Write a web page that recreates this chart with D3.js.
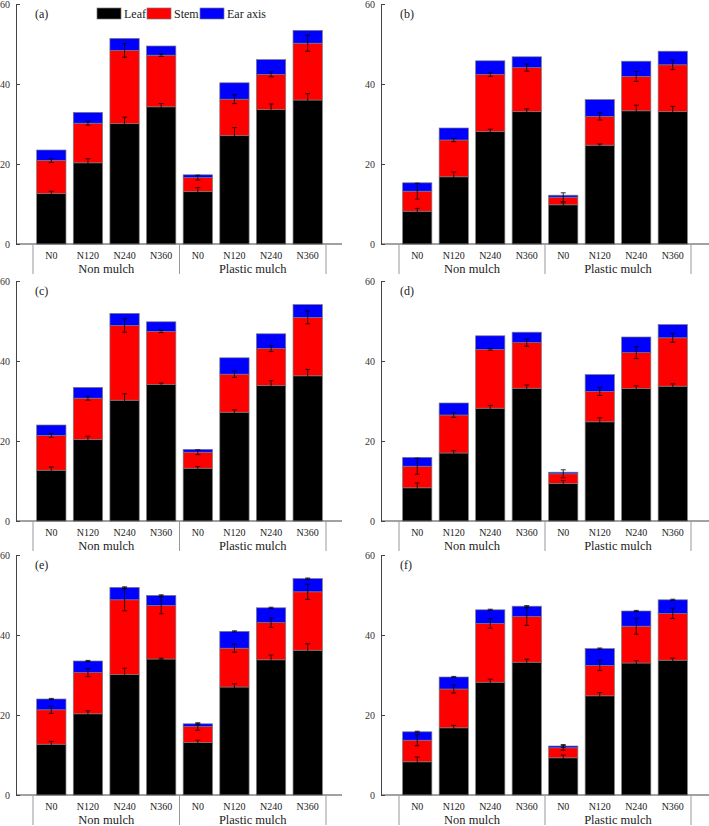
<!DOCTYPE html>
<html><head><meta charset="utf-8">
<script src="https://cdn.jsdelivr.net/npm/d3@7"></script>
<style>
body{margin:0;background:#fff}
svg text{font-family:'Liberation Serif','Times New Roman',Times,serif !important}
</style>
</head><body>
<svg id="chart" width="709" height="826" font-family="Liberation Serif, Times New Roman, serif"></svg>
<script>
// ---------- data ----------
const categories = ["N0","N120","N240","N360","N0","N120","N240","N360"];
const groups = ["Non mulch","Plastic mulch"];
const seriesNames = ["Leaf","Stem","Ear axis"];
const seriesKeys = ["leaf","stem","ear"];
const seriesColors = ["#000000","#ff0000","#0000ff"];
const panelLabels = ["(a)","(b)","(c)","(d)","(e)","(f)"];
const yTicks = [0,20,40,60];

const leafA = [12.6,20.3,30.1,34.3,13.1,27.1,33.6,36.0];
const stemA = [8.3,9.9,18.3,12.9,3.5,9.1,8.8,14.2];
const earA  = [2.6,2.7,3.0,2.3,0.7,4.1,3.7,3.2];
const leafErrA = [0.6,1.0,1.6,0.8,1.0,2.0,1.4,1.6];
const stemErrA = [0.5,0.5,1.7,0.3,0.6,1.1,0.6,2.0];
const earErrA  = [0,0,0,0,0,0,0,0];

const leafB = [8.2,16.8,28.1,33.1,9.8,24.7,33.3,33.1];
const stemB = [5.0,9.2,14.3,11.0,1.9,7.2,8.6,11.7];
const earB  = [2.1,3.0,3.4,2.7,0.5,4.2,3.8,3.4];
const leafErrB = [0.7,1.2,0.6,0.7,0.5,0.3,1.4,1.3];
const stemErrB = [2.0,0.4,0.5,0.9,1.1,0.9,1.25,1.2];
const earErrB  = [0,0,0,0,0,0,0,0];

const leafC = [12.7,20.4,30.2,34.1,13.2,27.2,33.9,36.3];
const stemC = [8.7,10.3,18.7,13.3,4.0,9.5,9.2,14.6];
const earC  = [2.6,2.7,3.0,2.4,0.7,4.1,3.7,3.2];
const leafErrC = [0.8,0.8,1.6,0.4,0.4,0.6,1.2,1.6];
const stemErrC = [0.5,0.5,1.7,0.3,0.6,0.8,0.75,1.6];
const earErrC  = [0,0,0,0,0,0,0,0];

const leafD = [8.3,17.0,28.2,33.2,9.4,24.8,33.1,33.7];
const stemD = [5.4,9.5,14.7,11.4,2.4,7.6,9.0,12.1];
const earD  = [2.2,3.0,3.4,2.6,0.4,4.2,3.9,3.3];
const leafErrD = [1.2,0.6,0.7,0.8,0.7,1.0,0.7,0.6];
const stemErrD = [2.0,0.6,0.2,0.9,1.0,1.0,1.5,1.1];
const earErrD  = [0,0,0,0,0,0,0,0];

const leafE = [12.7,20.3,30.1,34.0,13.1,27.0,33.8,36.2];
const stemE = [8.6,10.3,18.7,13.4,4.0,9.7,9.3,14.6];
const earE  = [2.7,2.9,3.1,2.5,0.7,4.2,3.7,3.3];
const leafErrE = [0.7,0.75,1.6,0.2,0.6,0.8,1.2,1.6];
const stemErrE = [0.9,1.0,2.75,2.1,0.9,1.0,1.2,1.9];
const earErrE  = [0.15,0.15,0.15,0.15,0.2,0.15,0.15,0.15];

const leafF = [8.3,16.8,28.2,33.2,9.3,24.8,33.0,33.7];
const stemF = [5.4,9.7,14.7,11.4,2.5,7.6,9.2,11.7];
const earF  = [2.1,3.0,3.4,2.6,0.45,4.2,3.8,3.4];
const leafErrF = [1.2,0.6,0.75,0.75,0.7,0.8,0.6,0.5];
const stemErrF = [1.4,1.0,1.2,2.2,0.6,1.3,2.0,1.3];
const earErrF  = [0.15,0.15,0.15,0.15,0.35,0.15,0.15,0.15];

const panelValues = [
  [leafA,stemA,earA,leafErrA,stemErrA,earErrA],
  [leafB,stemB,earB,leafErrB,stemErrB,earErrB],
  [leafC,stemC,earC,leafErrC,stemErrC,earErrC],
  [leafD,stemD,earD,leafErrD,stemErrD,earErrD],
  [leafE,stemE,earE,leafErrE,stemErrE,earErrE],
  [leafF,stemF,earF,leafErrF,stemErrF,earErrF]
];

// ---------- layout ----------
const FONT = "'Liberation Serif','Times New Roman',Times,serif";
const cols = [
  {axisX:16, band:[33,326], end:342},
  {axisX:381, band:[399,691], end:709}
];
const rows = [
  {top:4, bottom:244},
  {top:281, bottom:521},
  {top:555, bottom:795}
];

const svg = d3.select("#chart");

panelValues.forEach((pv, pi) => {
  const col = cols[pi % 2], row = rows[Math.floor(pi / 2)];
  const g = svg.append("g");
  const x = d3.scaleBand().domain(d3.range(categories.length))
    .range(col.band).paddingInner(0.2).paddingOuter(0.1);
  const y = d3.scaleLinear().domain([0,60]).range([row.bottom,row.top]);

  const records = categories.map((c,i) => ({
    i, leaf: pv[0][i], stem: pv[1][i], ear: pv[2][i],
    errs: [pv[3][i], pv[4][i], pv[5][i]]
  }));
  const stacked = d3.stack().keys(seriesKeys)(records);

  // bars
  stacked.forEach((layer, li) => {
    g.append("g").selectAll("rect").data(layer).join("rect")
      .attr("x", d => x(d.data.i))
      .attr("width", x.bandwidth())
      .attr("y", d => y(d[1]))
      .attr("height", d => y(d[0]) - y(d[1]))
      .attr("fill", seriesColors[li])
      .attr("stroke", "#7a7a7a")
      .attr("stroke-width", 0.7);
  });

  // error bars
  stacked.forEach((layer, li) => {
    const eg = g.append("g").attr("stroke","#000").attr("stroke-width",0.8);
    layer.forEach(d => {
      const e = d.data.errs[li];
      if (!e) return;
      const cx = x(d.data.i) + x.bandwidth()/2;
      const y1 = y(d[1] + e), y2 = y(d[1] - e);
      eg.append("line").attr("x1",cx).attr("x2",cx).attr("y1",y1).attr("y2",y2);
      eg.append("line").attr("x1",cx-2.5).attr("x2",cx+2.5).attr("y1",y1).attr("y2",y1);
      eg.append("line").attr("x1",cx-2.5).attr("x2",cx+2.5).attr("y1",y2).attr("y2",y2);
    });
  });

  // y axis
  const ya = g.append("g").attr("transform",`translate(${col.axisX},0)`)
    .call(d3.axisLeft(y).tickValues(yTicks).tickSizeInner(-4).tickSizeOuter(0).tickPadding(6));
  ya.attr("font-family", FONT);
  ya.select(".domain").attr("stroke","#444");
  ya.selectAll(".tick line").attr("stroke","#444");
  ya.selectAll(".tick text").attr("fill","#333")
    .style("font-family",FONT).style("font-size","10px");

  // x axis baseline
  g.append("line").attr("x1",col.axisX).attr("x2",col.end)
    .attr("y1",row.bottom).attr("y2",row.bottom).attr("stroke","#444").attr("stroke-width",1);

  // category labels
  g.append("g").selectAll("text").data(categories).join("text")
    .attr("x",(d,i) => x(i) + x.bandwidth()/2)
    .attr("y",row.bottom + 14.5)
    .attr("text-anchor","middle").style("font-family",FONT).style("font-size","10px").attr("fill","#222")
    .text(d => d);

  // group separators and labels
  const step = x.step();
  const groupEdges = [col.band[0], col.band[0] + 4*step, col.band[1]];
  g.append("g").selectAll("line").data(groupEdges).join("line")
    .attr("x1",d=>d).attr("x2",d=>d)
    .attr("y1",row.bottom).attr("y2",row.bottom + 30)
    .attr("stroke","#999").attr("stroke-width",1);
  g.append("g").selectAll("text").data(groups).join("text")
    .attr("x",(d,i) => (groupEdges[i] + groupEdges[i+1]) / 2)
    .attr("y",row.bottom + 28.5)
    .attr("text-anchor","middle").style("font-family",FONT).style("font-size","12.5px").attr("fill","#222")
    .text(d => d);

  // panel label
  g.append("text").attr("x",col.axisX + 19).attr("y",row.top + 13.5)
    .style("font-family",FONT).style("font-size","12px").attr("fill","#222").text(panelLabels[pi]);

  // legend (panel a only)
  if (pi === 0) {
    const legX = [97,147,200];
    const lg = g.append("g");
    seriesNames.forEach((n,k) => {
      lg.append("rect").attr("x",legX[k]).attr("y",row.top + 4).attr("width",24).attr("height",11)
        .attr("fill",seriesColors[k]).attr("stroke","#7a7a7a").attr("stroke-width",0.7);
      lg.append("text").attr("x",legX[k] + 27).attr("y",row.top + 14)
        .style("font-family",FONT).style("font-size","12px").attr("fill","#222").text(n);
    });
  }
});
</script>
</body></html>
